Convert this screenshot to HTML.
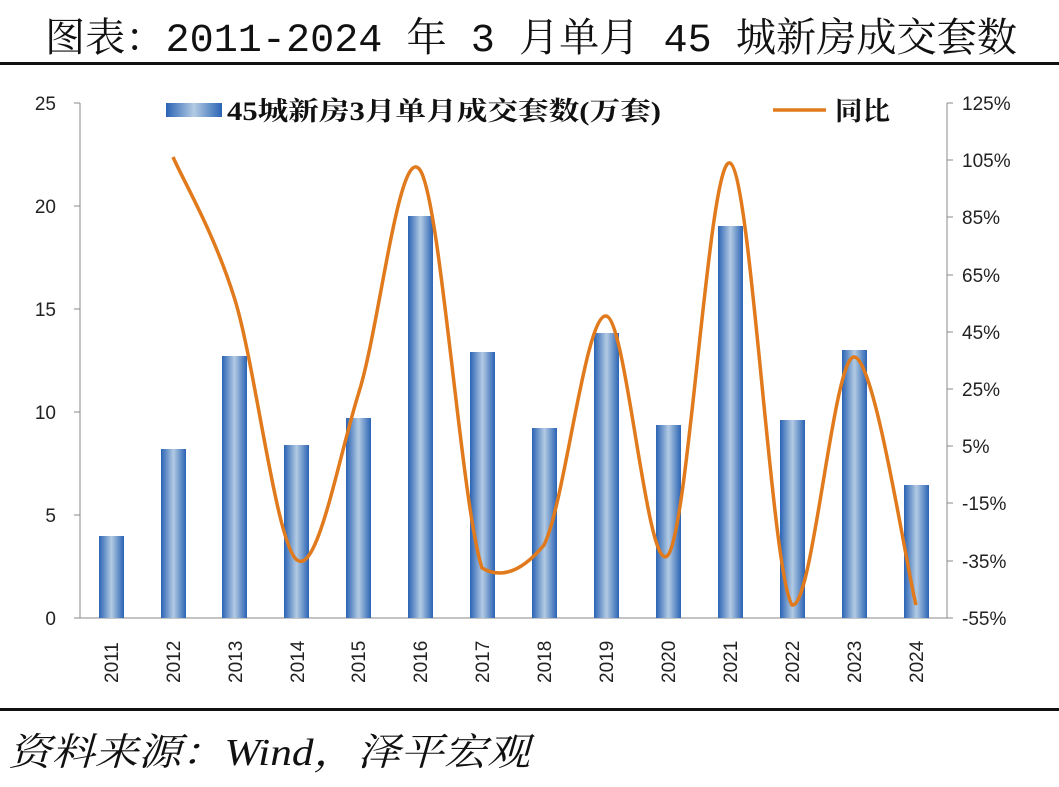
<!DOCTYPE html>
<html><head><meta charset="utf-8"><style>
html,body{margin:0;padding:0;background:#fff;}
body{width:1059px;height:787px;overflow:hidden;position:relative;}
</style></head><body>
<svg width="1059" height="787" xmlns="http://www.w3.org/2000/svg" style="position:absolute;left:0;top:0">
<defs>
<linearGradient id="bg" x1="0" x2="1" y1="0" y2="0">
<stop offset="0" stop-color="#2a63b4"/>
<stop offset="0.5" stop-color="#b3cbe3"/>
<stop offset="1" stop-color="#2a63b4"/>
</linearGradient>
</defs>
<text x="45" y="51" textLength="972" lengthAdjust="spacingAndGlyphs" font-family="Liberation Mono, Noto Serif CJK SC, serif" font-size="40" fill="#111">图表：2011-2024 年 3 月单月 45 城新房成交套数</text>
<rect x="0" y="62" width="1059" height="3" fill="#111"/>
<rect x="0" y="708" width="1059" height="3" fill="#111"/>
<text x="8" y="765" textLength="522" lengthAdjust="spacingAndGlyphs" font-family="Liberation Serif, Noto Serif CJK SC, serif" font-style="italic" font-size="38" fill="#111">资料来源：Wind，泽平宏观</text>

<g font-family="Liberation Sans, sans-serif" font-size="19" fill="#222">
<line x1="80" y1="103" x2="80" y2="618" stroke="#888" stroke-width="1"/>
<line x1="947" y1="103" x2="947" y2="618" stroke="#888" stroke-width="1"/>
<line x1="80" y1="618" x2="947" y2="618" stroke="#888" stroke-width="1"/>
<g stroke="#888">
<line x1="74" y1="103" x2="80" y2="103"/><line x1="74" y1="206" x2="80" y2="206"/><line x1="74" y1="309" x2="80" y2="309"/><line x1="74" y1="412" x2="80" y2="412"/><line x1="74" y1="515" x2="80" y2="515"/><line x1="74" y1="618" x2="80" y2="618"/>
<line x1="947" y1="103" x2="953" y2="103"/><line x1="947" y1="160" x2="953" y2="160"/><line x1="947" y1="217" x2="953" y2="217"/><line x1="947" y1="275" x2="953" y2="275"/><line x1="947" y1="332" x2="953" y2="332"/><line x1="947" y1="389" x2="953" y2="389"/><line x1="947" y1="446" x2="953" y2="446"/><line x1="947" y1="503" x2="953" y2="503"/><line x1="947" y1="561" x2="953" y2="561"/><line x1="947" y1="618" x2="953" y2="618"/>
</g>
<g text-anchor="end">
<text x="56" y="110">25</text><text x="56" y="213">20</text><text x="56" y="316">15</text><text x="56" y="419">10</text><text x="56" y="522">5</text><text x="56" y="625">0</text>
</g>
<g text-anchor="start">
<text x="962" y="110">125%</text><text x="962" y="167">105%</text><text x="962" y="224">85%</text><text x="962" y="282">65%</text><text x="962" y="339">45%</text><text x="962" y="396">25%</text><text x="962" y="453">5%</text><text x="962" y="510">-15%</text><text x="962" y="568">-35%</text><text x="962" y="625">-55%</text>
</g>
<g>
<text transform="translate(118,683) rotate(-90)">2011</text>
<text transform="translate(180,683) rotate(-90)">2012</text>
<text transform="translate(242,683) rotate(-90)">2013</text>
<text transform="translate(304,683) rotate(-90)">2014</text>
<text transform="translate(365,683) rotate(-90)">2015</text>
<text transform="translate(427,683) rotate(-90)">2016</text>
<text transform="translate(489,683) rotate(-90)">2017</text>
<text transform="translate(551,683) rotate(-90)">2018</text>
<text transform="translate(613,683) rotate(-90)">2019</text>
<text transform="translate(675,683) rotate(-90)">2020</text>
<text transform="translate(737,683) rotate(-90)">2021</text>
<text transform="translate(799,683) rotate(-90)">2022</text>
<text transform="translate(861,683) rotate(-90)">2023</text>
<text transform="translate(923,683) rotate(-90)">2024</text>
</g>
</g>
<g fill="url(#bg)">
<rect x="99" y="536" width="25" height="82"/>
<rect x="161" y="449" width="25" height="169"/>
<rect x="222" y="356" width="25" height="262"/>
<rect x="284" y="445" width="25" height="173"/>
<rect x="346" y="418" width="25" height="200"/>
<rect x="408" y="216" width="25" height="402"/>
<rect x="470" y="352" width="25" height="266"/>
<rect x="532" y="428" width="25" height="190"/>
<rect x="594" y="333" width="25" height="285"/>
<rect x="656" y="425" width="25" height="193"/>
<rect x="718" y="226" width="25" height="392"/>
<rect x="780" y="420" width="25" height="198"/>
<rect x="842" y="350" width="25" height="268"/>
<rect x="904" y="485" width="25" height="133"/>
</g>
<path fill="none" stroke="#e07a1c" stroke-width="3.5" d="M173,157 C183.3,180.8 214.3,232.8 235,300 C255.7,367.2 276.3,544.7 297,560 C317.7,575.3 338.5,457 359,392 C379.5,327 399.5,140.7 420,170 C440.5,199.3 461.3,505.5 482,568 C502.7,580 523.3,570 544,545 C564.7,504.3 585.3,314.3 606,316 C626.7,317.7 647.3,580.5 668,555 C688.7,529.5 709.3,154.7 730,163 C750.7,171.3 771.3,572.7 792,605 C812.7,610 833.3,357 854,357 C874.7,357 905.7,563.7 916,605"/>
<rect x="166" y="103" width="56" height="14" fill="url(#bg)"/>
<text x="227" y="120" textLength="434" lengthAdjust="spacingAndGlyphs" font-family="Liberation Serif, Noto Serif CJK SC, serif" font-weight="bold" font-size="26" fill="#111">45城新房3月单月成交套数(万套)</text>
<line x1="773" y1="110" x2="826" y2="110" stroke="#e07a1c" stroke-width="3.5"/>
<text x="835" y="120" textLength="55" lengthAdjust="spacingAndGlyphs" font-family="Liberation Serif, Noto Serif CJK SC, serif" font-weight="bold" font-size="26" fill="#111">同比</text>
</svg>
</body></html>
